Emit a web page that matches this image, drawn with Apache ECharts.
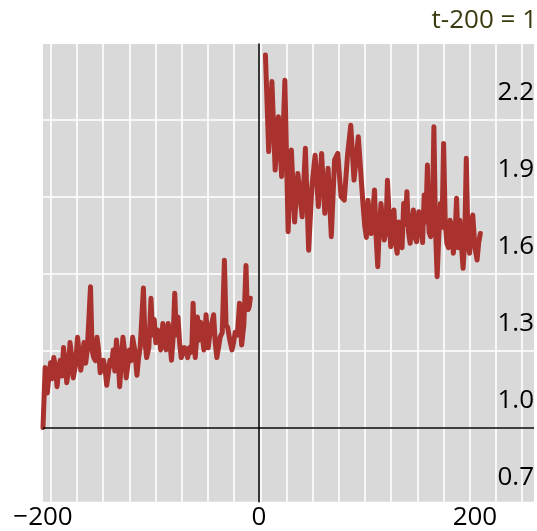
<!DOCTYPE html>
<html>
<head>
<meta charset="utf-8">
<script src="https://cdn.jsdelivr.net/npm/echarts@6/dist/echarts.min.js"></script>
<style>
html,body{margin:0;padding:0;background:#fff;}
#chart{width:537px;height:531px;}
</style>
</head>
<body>
<div id="chart"></div>
<script>
// ---- data ----
const titleText = 't-200 = 1';
const xTicks = [-200, 0, 200];
const yTicks = [0.7, 1.0, 1.3, 1.6, 1.9, 2.2];
const gridStep = 24.1;

const leftT = [-200,-198,-196,-194.5,-193,-191.5,-190,-188.5,-187,-185.5,-184,-182.5,-181,-179.5,-178,-176.5,-175,-173.5,-172,-170,-168,-166.5,-165,-163.5,-162,-160.5,-159,-156,-154.5,-153,-151.5,-150,-148.5,-147,-145.5,-144,-142.5,-141,-139.5,-138,-136.5,-135,-133.5,-132,-130.5,-129,-127.5,-126,-124.5,-123,-121.5,-120,-118.5,-117,-115,-113,-111.5,-110,-107,-105.5,-104,-102,-100,-98.5,-97,-95.5,-94,-92.5,-91,-89,-87.5,-86,-84,-82.5,-81,-79.5,-78,-76.5,-75,-73.5,-72,-70.5,-69,-67.5,-66,-64.5,-63,-62,-61,-60,-59,-58,-57,-55.5,-54,-52.5,-51,-50,-49,-47,-45,-43.5,-42,-40.5,-39,-37.5,-36,-34,-32,-30.5,-29,-27,-25,-23.5,-22,-20,-18,-17,-16,-14,-12,-11,-10,-9,-8];
const leftV = [1.000,1.233,1.134,1.200,1.252,1.190,1.272,1.240,1.159,1.220,1.262,1.200,1.311,1.260,1.174,1.220,1.331,1.280,1.193,1.240,1.351,1.290,1.223,1.270,1.331,1.250,1.302,1.548,1.300,1.272,1.260,1.351,1.300,1.213,1.220,1.262,1.230,1.164,1.210,1.262,1.240,1.302,1.220,1.341,1.280,1.159,1.250,1.351,1.300,1.193,1.240,1.302,1.260,1.351,1.300,1.203,1.270,1.311,1.543,1.330,1.272,1.311,1.503,1.360,1.420,1.330,1.380,1.370,1.302,1.405,1.340,1.302,1.405,1.330,1.262,1.350,1.523,1.360,1.430,1.330,1.272,1.290,1.311,1.300,1.272,1.310,1.292,1.330,1.484,1.350,1.272,1.330,1.430,1.340,1.410,1.360,1.302,1.350,1.439,1.310,1.380,1.410,1.439,1.330,1.272,1.310,1.351,1.370,1.651,1.400,1.390,1.340,1.302,1.330,1.371,1.360,1.484,1.380,1.321,1.400,1.631,1.480,1.459,1.470,1.503];

const rightT = [6,9,12,15,18,21,24,27,30,33,36,40,43,46,49,52,55,58,61,64,67,70,73,76,79,82,85,88,92,95,96.5,98,99.5,101,102.5,104,105.5,107,108.5,110,111.5,113,114.5,116,117.5,119,120.5,122,123.5,125,126.5,128,129.5,131,132.5,134,135.5,137,138.5,140,141.5,143,144.5,146,148,150,151.5,153,154.5,156,157.5,159,160.5,162,163.5,165,166.5,168,169.5,171,172.5,174,175.5,177,178.5,180,181.5,183,184.5,186,187.5,189,190.5,192,193.5,195,196.5,198,200,202,203.5,205];
const rightV = [2.450,2.074,2.347,2.002,2.210,1.977,2.352,1.762,2.080,1.800,1.989,1.820,2.087,1.690,1.937,2.060,1.860,2.067,1.834,2.009,1.743,2.041,2.067,1.899,1.885,2.060,2.177,1.963,2.132,1.950,1.860,1.782,1.740,1.885,1.800,1.755,1.840,1.925,1.740,1.626,1.780,1.872,1.800,1.730,1.760,1.963,1.830,1.704,1.780,1.847,1.720,1.678,1.800,1.730,1.700,1.872,1.790,1.918,1.760,1.717,1.800,1.847,1.740,1.723,1.840,1.782,1.720,1.905,1.800,2.022,1.760,1.743,1.800,2.171,1.770,1.587,1.740,1.872,1.780,2.106,1.800,1.717,1.700,1.807,1.780,1.678,1.740,1.892,1.700,1.807,1.800,1.620,1.720,2.048,1.740,1.678,1.760,1.827,1.700,1.652,1.720,1.755];

// ---- layout ----
const W = 537, H = 531;
const plotLeft = 43, plotTop = 44, plotBottom = 29.3;
const xMin = -200, xMax = 254.7;
const yMin = 0.711, yMax = 2.493;
const pxPerUnit = (W - plotLeft) / (xMax - xMin);
const gMin = -Math.ceil(-xMin / gridStep) * gridStep; // multiple of gridStep
const gLeft = plotLeft - (xMin - gMin) * pxPerUnit;
// helper grid for horizontal grid lines and right-hand labels: ticks 0.7 .. 2.5
const hMin = 0.7, hMax = 2.5;
const plotH = H - plotTop - plotBottom;
const pxPerY = plotH / (yMax - yMin);
const hTop = plotTop - (hMax - yMax) * pxPerY;
const hBottom = plotBottom - (yMin - hMin) * pxPerY;

const FONT = 'Open Sans';
const lineColor = '#a9322e';

function fmtX(v){
  if (xTicks.indexOf(v) < 0) return '';
  return v < 0 ? '\u2212' + Math.abs(v) : String(v);
}
function fmtY(v){
  const r = Math.round(v*10)/10;
  return yTicks.some(t => Math.abs(t - r) < 1e-6) ? r.toFixed(1) : '';
}

const chart = echarts.init(document.getElementById('chart'), null, {renderer:'canvas'});
const seriesStyle = {width: 5, color: lineColor, cap: 'round', join: 'round'};
const option = {
  animation: false,
  title: {
    text: titleText, right: 0, top: 8, padding: 0,
    textStyle: {color: '#3b3a0e', fontSize: 26, fontWeight: 'normal', fontFamily: FONT}
  },
  grid: [
    {left: plotLeft, right: 0, top: plotTop, bottom: plotBottom, show: true, backgroundColor: '#d9d9d9', borderWidth: 0},
    {left: gLeft, right: 0, top: plotTop, bottom: plotBottom, show: false},
    {left: plotLeft, right: 0, top: hTop, bottom: hBottom, show: false}
  ],
  xAxis: [
    {gridIndex: 0, type: 'value', min: xMin, max: xMax, interval: 200,
     axisLine: {show: false, onZero: false}, axisTick: {show: false}, splitLine: {show: false},
     axisLabel: {formatter: fmtX, fontSize: 26, color: '#000', fontFamily: FONT, margin: 3}},
    {gridIndex: 1, type: 'value', min: gMin, max: xMax, interval: gridStep,
     axisLine: {show: false, onZero: false}, axisTick: {show: false}, axisLabel: {show: false},
     splitLine: {show: true, lineStyle: {color: '#ffffff', width: 1.6}}},
    {gridIndex: 2, type: 'value', min: xMin, max: xMax, show: false}
  ],
  yAxis: [
    {gridIndex: 0, type: 'value', min: yMin, max: yMax,
     axisLine: {show: true, onZero: true, lineStyle: {color: '#000', width: 1.5}},
     axisTick: {show: false}, axisLabel: {show: false}, splitLine: {show: false}},
    {gridIndex: 1, type: 'value', min: 0, max: 1, show: false},
    {gridIndex: 2, type: 'value', min: hMin, max: hMax, interval: 0.3, position: 'right',
     axisLine: {show: false, onZero: false}, axisTick: {show: false},
     axisLabel: {inside: true, formatter: fmtY, fontSize: 26, color: '#000', fontFamily: FONT,
                 margin: 1, verticalAlign: 'bottom', padding: [0, 0, 14, 0], showMaxLabel: false},
     splitLine: {show: true, lineStyle: {width: 1.6, color: '#ffffff'}}}
  ],
  series: [
    {type: 'line', xAxisIndex: 0, yAxisIndex: 0, showSymbol: false, symbol: 'none',
     data: leftT.map((t, i) => [t, leftV[i]]), lineStyle: seriesStyle, z: 3,
     markLine: {silent: true, symbol: ['none', 'none'], label: {show: false},
       lineStyle: {color: '#000', width: 1.5, type: 'solid'}, data: [{yAxis: 1}]}},
    {type: 'line', xAxisIndex: 0, yAxisIndex: 0, showSymbol: false, symbol: 'none',
     data: rightT.map((t, i) => [t, rightV[i]]), lineStyle: seriesStyle, z: 3}
  ]
};
chart.setOption(option);
</script>
</body>
</html>
